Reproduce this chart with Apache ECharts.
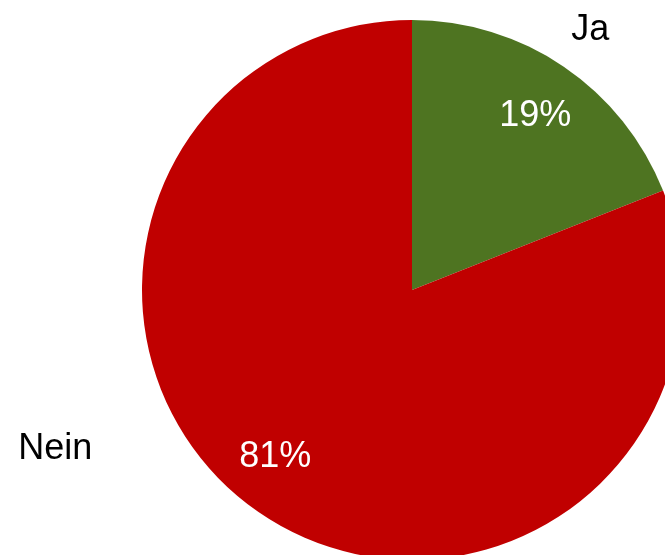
<!DOCTYPE html>
<html><head><meta charset="utf-8">
<script src="https://cdn.jsdelivr.net/npm/echarts@6/dist/echarts.min.js"></script>
<style>html,body{margin:0;padding:0;background:#fff}#c{width:665px;height:555px}</style>
</head><body><div id="c"></div>
<script>
const categories = ['Ja', 'Nein'];
const values = [19, 81];
const percentLabels = ['19%', '81%'];
const colors = ['#4E7421', '#C00000'];

const CX = 412, CY = 290, R = 270;
// label placement: [angle tweak in degrees, radial distance]
const innerPlace = [[0.8, 215], [5.5, 214]];
const outerPlace = [[0, 317], [32, 390]];
const textDy = 2;

const total = values.reduce((a, b) => a + b, 0);
function midAngle(i) {
  let s = 0;
  for (let k = 0; k < i; k++) s += values[k];
  return (s + values[i] / 2) / total * 360;
}
function polar(deg, d) {
  const a = deg * Math.PI / 180;
  return [CX + d * Math.sin(a), CY - d * Math.cos(a)];
}
function placer(place) {
  return function (p) {
    const i = p.dataIndex;
    const pt = polar(midAngle(i) + place[i][0], place[i][1]);
    return { x: pt[0], y: pt[1] + textDy, align: 'center', verticalAlign: 'middle' };
  };
}

const chart = echarts.init(document.getElementById('c'), null, { renderer: 'canvas' });
const pieData = categories.map((c, i) => ({ name: c, value: values[i], itemStyle: { color: colors[i] } }));
const font = '"Liberation Sans", Arial, sans-serif';

chart.setOption({
  animation: false,
  backgroundColor: '#ffffff',
  series: [
    {
      type: 'pie',
      center: [CX, CY],
      radius: [0, R],
      startAngle: 90,
      clockwise: true,
      silent: true,
      data: pieData,
      itemStyle: { borderWidth: 0 },
      label: {
        show: true,
        position: 'inside',
        formatter: p => percentLabels[p.dataIndex],
        color: '#ffffff',
        fontSize: 36,
        fontFamily: font
      },
      labelLine: { show: false },
      labelLayout: placer(innerPlace)
    },
    {
      type: 'pie',
      center: [CX, CY],
      radius: [0, R],
      startAngle: 90,
      clockwise: true,
      silent: true,
      data: categories.map((c, i) => ({ name: c, value: values[i] })),
      itemStyle: { color: 'rgba(0,0,0,0)', borderWidth: 0 },
      label: {
        show: true,
        position: 'inside',
        formatter: '{b}',
        color: '#000000',
        fontSize: 36,
        fontFamily: font
      },
      labelLine: { show: false },
      labelLayout: placer(outerPlace)
    }
  ]
});
</script>
</body></html>
